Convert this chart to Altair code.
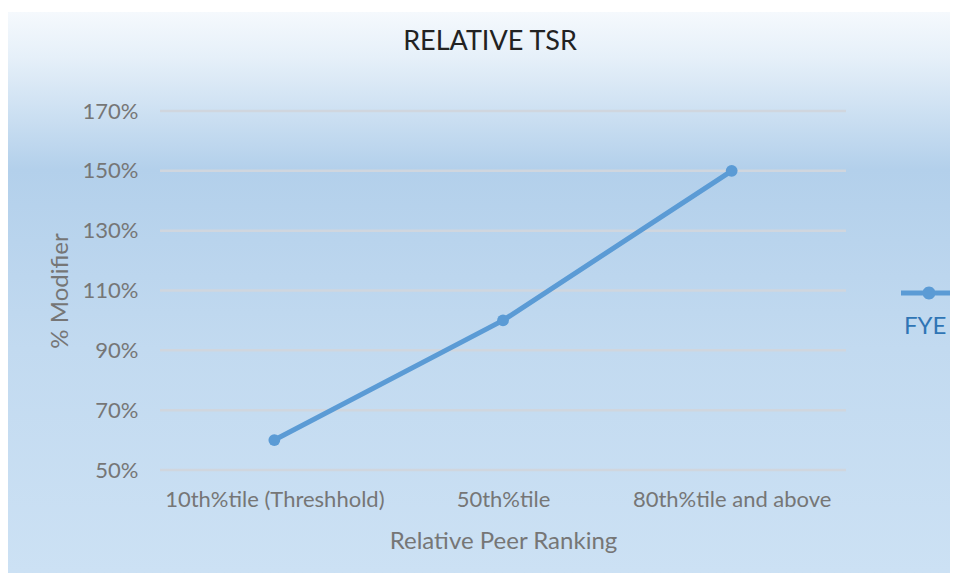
import altair as alt
import pandas as pd

categories = ["10th%tile (Threshhold)", "50th%tile", "80th%tile and above"]
values = [0.60, 1.00, 1.50]
series = ["FYE", "FYE", "FYE"]
y_ticks = [0.5, 0.7, 0.9, 1.1, 1.3, 1.5, 1.7]

df = pd.DataFrame({"rank": categories, "mod": values, "series": series})
grid_df = pd.DataFrame({"t": y_ticks})

W, H = 686, 359
FONT = "Lato"
BLUE = "#5b9bd5"
GRAY = "#767676"

x_enc = alt.X("rank:N", sort=categories,
              scale=alt.Scale(type="point", padding=0.5),
              axis=alt.Axis(title="Relative Peer Ranking", labelAngle=0, domain=False, ticks=False,
                            labelPadding=19, titlePadding=19, labelFontSize=22, titleFontSize=24,
                            labelLimit=400,
                            labelColor=GRAY, titleColor=GRAY, labelFont=FONT, titleFont=FONT,
                            titleFontWeight="normal", zindex=1))
y_scale = alt.Scale(domain=[0.5, 1.7], nice=False, zero=False)

bg = alt.Chart(alt.Data(values=[{}])).mark_rect(
    color=alt.Gradient(
        gradient="linear", x1=0, y1=0, x2=0, y2=1,
        stops=[alt.GradientStop(offset=0, color="#f5f9fd"),
               alt.GradientStop(offset=0.08, color="#e6f0f9"),
               alt.GradientStop(offset=0.28, color="#b3d0eb"),
               alt.GradientStop(offset=0.6, color="#c2daf0"),
               alt.GradientStop(offset=1, color="#cce1f4")])
).encode(x=alt.value(-152), x2=alt.value(790), y=alt.value(-99), y2=alt.value(462))

grid = alt.Chart(grid_df).mark_rule(color="#d0d6de", strokeWidth=2.5).encode(
    y=alt.Y("t:Q", scale=y_scale,
            axis=alt.Axis(title="% Modifier", values=y_ticks, format=".0%", domain=False, ticks=False,
                          grid=False, labelPadding=22, titlePadding=10, labelFontSize=22, titleFontSize=24,
                          labelColor=GRAY, titleColor=GRAY, labelFont=FONT, titleFont=FONT,
                          titleFontWeight="normal", zindex=1)),
    x=alt.value(0), x2=alt.value(W))

line = alt.Chart(df).mark_line(color=BLUE, strokeWidth=5).encode(
    x=x_enc, y=alt.Y("mod:Q", scale=y_scale))

path = ("M0.9,-3.65 L6.5,-3.65 L6.5,-3.15 L0.9,-3.15 Z "
        "M4.35,-3.4 A0.65,0.65 0 1,1 3.05,-3.4 A0.65,0.65 0 1,1 4.35,-3.4 Z")

pts = alt.Chart(df).mark_point(filled=True, size=140, opacity=1).encode(
    x=x_enc, y=alt.Y("mod:Q", scale=y_scale),
    color=alt.Color("series:N", scale=alt.Scale(range=[BLUE]),
                    legend=alt.Legend(title=None, orient="none", legendX=720, legendY=204,
                                      symbolType=path, symbolSize=400, symbolFillColor=BLUE,
                                      symbolStrokeWidth=0, symbolOpacity=1, labelOffset=0,
                                      labelFontSize=24, labelColor="#2f75b5", labelFont=FONT,
                                      padding=0, labelLimit=200)))

chart = alt.layer(bg, grid, line, pts).properties(
    width=W, height=H,
    title=alt.TitleParams("RELATIVE TSR", fontSize=27, font=FONT, fontWeight="normal",
                          color="#222222", anchor="middle", offset=0, dy=44, dx=-13),
    padding={"left": 152, "top": 103, "right": 104, "bottom": 103},
    autosize=alt.AutoSizeParams(type="none"),
).configure_view(stroke=None).configure(background="white")

chart.save("out.html", embed_options={"renderer": "svg", "actions": False})
